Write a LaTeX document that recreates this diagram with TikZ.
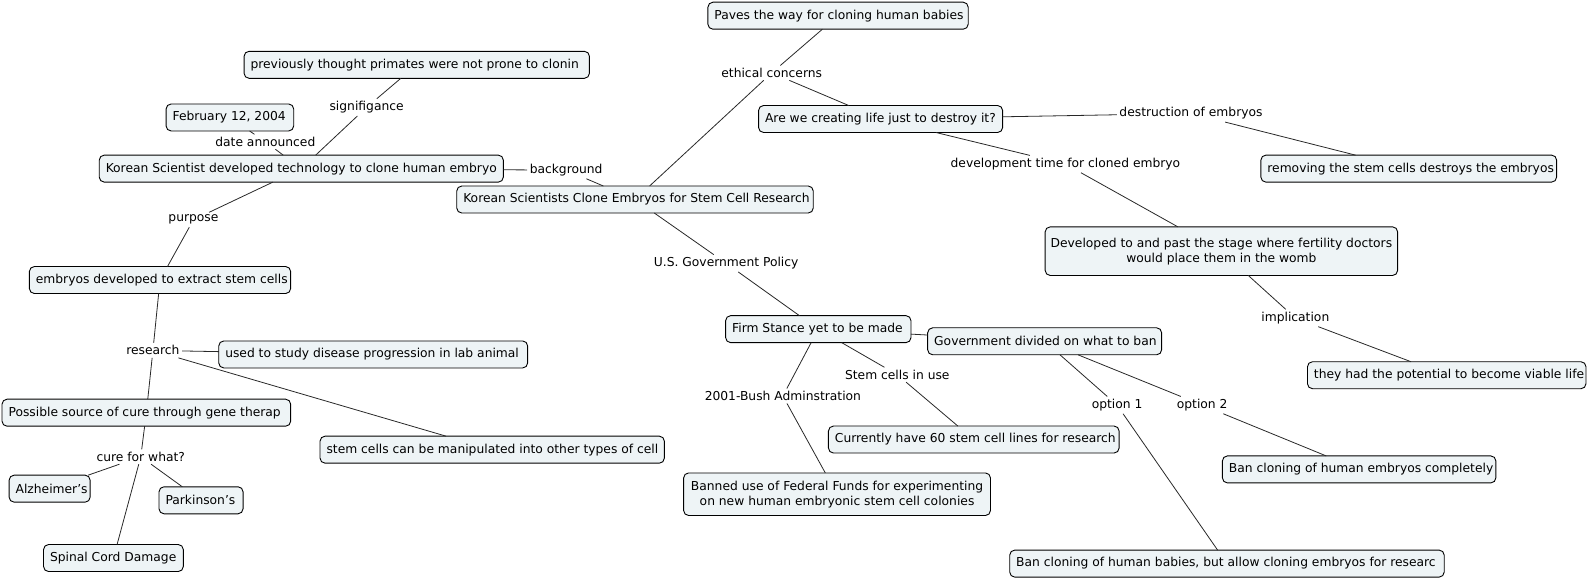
\documentclass[tikz,border=0pt]{standalone}
\usepackage{fontspec}
\setmainfont{DejaVu Sans}
\definecolor{boxfill}{RGB}{238,244,246}
\definecolor{linecol}{RGB}{40,40,40}
\newlength\cmlen
\newcommand\bxt[2]{\pgfmathsetlength\cmlen{1.0128*#1pt-13pt}\makebox[\cmlen][l]{#2}}
\begin{document}
\begin{tikzpicture}[x=1.0128pt,y=-1.0128pt,
  cbox/.style={draw=black, line width=0.9pt, fill=boxfill, rounded corners=5pt,
    minimum height=27pt, inner xsep=6.5pt, inner ysep=2pt, outer sep=0pt,
    font=\fontsize{12.3}{15}\selectfont},
  wd/.style={minimum width={1.0128*#1pt}},
  ht/.style={minimum height={1.0128*#1pt}},
  lbl/.style={font=\fontsize{12.3}{15}\selectfont, inner sep=2.5pt},
  conn/.style={draw=linecol, line width=0.8pt}]
\useasboundingbox (0,0) rectangle (1568,572.7);
% concept boxes
\node[cbox,wd=257] (paves) at (827.5,15.5) {\bxt{257}{Paves the way for cloning human babies}};
\node[cbox,wd=341] (prev) at (411.5,64) {\bxt{341}{previously thought primates were not prone to clonin}};
\node[cbox,wd=126] (feb) at (227,116) {\bxt{126}{February 12, 2004}};
\node[cbox,wd=399] (kor) at (297.5,166.5) {\bxt{399}{Korean Scientist developed technology to clone human embryo}};
\node[cbox,wd=352] (main) at (627,197) {\bxt{352}{Korean Scientists Clone Embryos for Stem Cell Research}};
\node[cbox,wd=241] (are) at (869.5,117.5) {\bxt{241}{Are we creating life just to destroy it?}};
\node[cbox,wd=292] (remov) at (1391,166.5) {\bxt{292}{removing the stem cells destroys the embryos}};
\node[cbox,wd=348,ht=48,align=center,inner xsep=3pt] (devd) at (1206,248) {Developed to and past the stage where fertility doctors\\would place them in the womb};
\node[cbox,wd=258] (embr) at (158,276.5) {\bxt{258}{embryos developed to extract stem cells}};
\node[cbox,wd=305] (used) at (368.5,350) {\bxt{305}{used to study disease progression in lab animal}};
\node[cbox,wd=285] (poss) at (144.5,407.5) {\bxt{285}{Possible source of cure through gene therap}};
\node[cbox,wd=340] (manip) at (486,444) {\bxt{340}{stem cells can be manipulated into other types of cell}};
\node[cbox,wd=80] (alz) at (49,482.5) {\bxt{80}{Alzheimer’s}};
\node[cbox,wd=83] (park) at (198.5,494) {\bxt{83}{Parkinson’s}};
\node[cbox,wd=138] (spin) at (112,551) {\bxt{138}{Spinal Cord Damage}};
\node[cbox,wd=183] (firm) at (808,325) {\bxt{183}{Firm Stance yet to be made}};
\node[cbox,wd=231] (gov) at (1031.5,337) {\bxt{231}{Government divided on what to ban}};
\node[cbox,wd=287] (curr) at (961.5,434) {\bxt{287}{Currently have 60 stem cell lines for research}};
\node[cbox,wd=303,ht=42,align=center,inner xsep=3pt] (bann) at (826.5,488) {Banned use of Federal Funds for experimenting\\on new human embryonic stem cell colonies};
\node[cbox,wd=275] (they) at (1428.5,370.5) {\bxt{275}{they had the potential to become viable life}};
\node[cbox,wd=270] (bcomp) at (1342,463.5) {\bxt{270}{Ban cloning of human embryos completely}};
\node[cbox,wd=429] (bbab) at (1211.5,556.5) {\bxt{429}{Ban cloning of human babies, but allow cloning embryos for researc}};
% linking phrases
\node[lbl] (eth) at (762,72) {ethical concerns};
\node[lbl] (sig) at (362,106) {signifigance};
\node[lbl] (date) at (262,140) {date announced};
\node[lbl] (bg) at (559,168) {background};
\node[lbl] (purp) at (191,217) {purpose};
\node[lbl] (res) at (151,346) {research};
\node[lbl] (cure) at (139,451) {cure for what?};
\node[lbl] (destr) at (1176,112) {destruction of embryos};
\node[lbl] (devt) at (1052,162) {development time for cloned embryo};
\node[lbl] (usp) at (717,260) {U.S. Government Policy};
\node[lbl] (impl) at (1279,314) {implication};
\node[lbl] (siu) at (886,370) {Stem cells in use};
\node[lbl] (bush) at (773,391) {2001-Bush Adminstration};
\node[lbl] (opt1) at (1103,400) {option 1};
\node[lbl] (opt2) at (1187,400) {option 2};
% connectors
\draw[conn] (kor) -- (date);
\draw[conn] (date) -- (feb);
\draw[conn] (kor) -- (sig);
\draw[conn] (sig) -- (prev);
\draw[conn] (kor) -- (bg);
\draw[conn] (bg) -- (main);
\draw[conn] (kor) -- (purp);
\draw[conn] (purp) -- (embr);
\draw[conn] (embr) -- (res);
\draw[conn] (res) -- (used);
\draw[conn] (res) -- (poss);
\draw[conn] (res) -- (manip);
\draw[conn] (poss) -- (cure);
\draw[conn] (cure) -- (alz);
\draw[conn] (cure) -- (park);
\draw[conn] (cure) -- (spin);
\draw[conn] (main) -- (eth);
\draw[conn] (eth) -- (paves);
\draw[conn] (eth) -- (are);
\draw[conn] (are) -- (destr);
\draw[conn] (destr) -- (remov);
\draw[conn] (are) -- (devt);
\draw[conn] (devt) -- (devd);
\draw[conn] (devd) -- (impl);
\draw[conn] (impl) -- (they);
\draw[conn] (main) -- (usp);
\draw[conn] (usp) -- (firm);
\draw[conn] (firm) -- (gov);
\draw[conn] (firm) -- (siu);
\draw[conn] (siu) -- (curr);
\draw[conn] (firm) -- (bush);
\draw[conn] (bush) -- (bann);
\draw[conn] (gov) -- (opt1);
\draw[conn] (opt1) -- (bbab);
\draw[conn] (gov) -- (opt2);
\draw[conn] (opt2) -- (bcomp);
\end{tikzpicture}
\end{document}
